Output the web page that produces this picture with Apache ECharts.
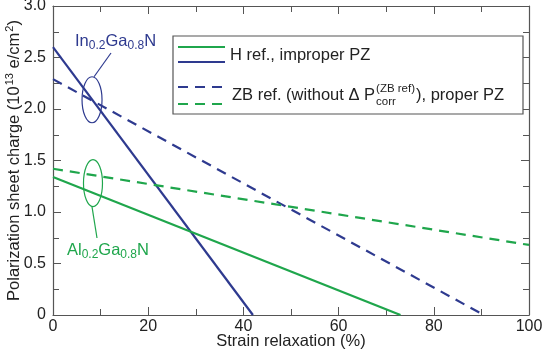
<!DOCTYPE html>
<html>
<head>
<meta charset="utf-8">
<script src="https://cdn.jsdelivr.net/npm/echarts@6/dist/echarts.min.js"></script>
<style>
  html, body { margin: 0; padding: 0; background: #fff; }
  #chart { width: 542px; height: 350px; }
</style>
</head>
<body>
<div id="chart"></div>
<script>
// strain relaxation (%) vs polarization sheet charge (10^13 e/cm^2)
var inH = [[0, 2.6], [42, 0]];
var inZB = [[0, 2.29], [90.5, 0]];
var alH = [[0, 1.34], [73, 0]];
var alZB = [[0, 1.42], [100, 0.68]];

var BLUE = '#2e3a8f';
var GREEN = '#1fa64c';
var AXIS = '#555';
var TXT = '#222';
var FONT = '"Liberation Sans", Arial, sans-serif';

var chart = echarts.init(document.getElementById('chart'));

function measure(str, size) {
  var ctx = document.createElement('canvas').getContext('2d');
  ctx.font = size + 'px ' + FONT;
  return ctx.measureText(str).width;
}

function line(name, data, color, dashed) {
  return {
    name: name,
    type: 'line',
    data: data,
    symbol: 'none',
    xAxisIndex: 0,
    yAxisIndex: 0,
    lineStyle: { color: color, width: 2.2, type: dashed ? [10, 7] : 'solid' },
    silent: true,
    z: 3
  };
}

var axisLine = { show: true, onZero: false, lineStyle: { color: AXIS, width: 1.2 } };
var ticks = { inside: true, length: 8, lineStyle: { color: AXIS } };
var minor = { show: true, splitNumber: 2, length: 6, lineStyle: { color: AXIS } };

chart.setOption({
  animation: false,
  grid: { left: 53, right: 13, top: 6, bottom: 35, outerBoundsMode: 'none', containLabel: false },
  xAxis: [{
    type: 'value', min: 0, max: 100, interval: 20,
    axisLine: axisLine, splitLine: { show: false },
    axisTick: ticks, minorTick: minor,
    axisLabel: { color: TXT, fontSize: 16, fontFamily: FONT, margin: 4 },
    name: 'Strain relaxation (%)', nameLocation: 'middle', nameGap: 18, nameMoveOverlap: false,
    nameTextStyle: { color: TXT, fontSize: 16.5, fontFamily: FONT }
  }, {
    type: 'value', min: 0, max: 100, interval: 20, position: 'top',
    axisLine: axisLine, splitLine: { show: false },
    axisTick: ticks, minorTick: minor,
    axisLabel: { show: false }
  }],
  yAxis: [{
    type: 'value', min: 0, max: 3, interval: 0.5,
    axisLine: axisLine, splitLine: { show: false },
    axisTick: ticks, minorTick: minor,
    axisLabel: {
      color: TXT, fontSize: 16, fontFamily: FONT, margin: 7,
      formatter: function (v) { return v === 0 ? '0' : v.toFixed(1); }
    },
    name: '{t|Polarization sheet charge (10}{p|13}{t| e/cm}{p|2}{t|)}',
    nameLocation: 'middle', nameGap: 29, nameMoveOverlap: false,
    nameTextStyle: {
      rich: {
        t: { color: TXT, fontSize: 16.5, fontFamily: FONT },
        p: { color: TXT, fontSize: 11, fontFamily: FONT, padding: [0, 0, 9, 1] }
      }
    }
  }, {
    type: 'value', min: 0, max: 3, interval: 0.5, position: 'right',
    axisLine: axisLine, splitLine: { show: false },
    axisTick: ticks, minorTick: minor,
    axisLabel: { show: false }
  }],
  series: [
    line('InGaN H', inH, BLUE, false),
    line('InGaN ZB', inZB, BLUE, true),
    line('AlGaN H', alH, GREEN, false),
    line('AlGaN ZB', alZB, GREEN, true)
  ]
});

// annotations and legend box
var cIn = chart.convertToPixel({ gridIndex: 0 }, [8.2, 2.09]);
var cAl = chart.convertToPixel({ gridIndex: 0 }, [8.4, 1.28]);

var subRich = function (color) {
  return {
    m: { fill: color, fontSize: 16.5, fontFamily: FONT },
    s: { fill: color, fontSize: 12, fontFamily: FONT, padding: [10, 0, 0, 0] }
  };
};

var LX = 232, LF = 16.5;
var zbMain = 'ZB ref. (without \u0394 P';
var zbW = measure(zbMain, LF);
var supW = measure('(ZB ref)', 11.5);

var graphics = [
  { type: 'ellipse', shape: { cx: cIn[0], cy: cIn[1], rx: 10, ry: 23 },
    style: { fill: 'none', stroke: BLUE, lineWidth: 1.2 }, z: 10 },
  { type: 'line', shape: { x1: cIn[0] + 2, y1: cIn[1] - 23, x2: 111, y2: 53 },
    style: { stroke: BLUE, lineWidth: 1.2 }, z: 10 },
  { type: 'text', x: 75, y: 41,
    style: { text: '{m|In}{s|0.2}{m|Ga}{s|0.8}{m|N}', rich: subRich(BLUE), verticalAlign: 'middle' }, z: 10 },

  { type: 'ellipse', shape: { cx: cAl[0], cy: cAl[1], rx: 9.5, ry: 23.5 },
    style: { fill: 'none', stroke: GREEN, lineWidth: 1.2 }, z: 10 },
  { type: 'line', shape: { x1: cAl[0] - 1, y1: cAl[1] + 23.5, x2: 97, y2: 238 },
    style: { stroke: GREEN, lineWidth: 1.2 }, z: 10 },
  { type: 'text', x: 67, y: 250,
    style: { text: '{m|Al}{s|0.2}{m|Ga}{s|0.8}{m|N}', rich: subRich(GREEN), verticalAlign: 'middle' }, z: 10 },

  // legend
  { type: 'rect', shape: { x: 173, y: 36, width: 350, height: 78 },
    style: { fill: '#fff', stroke: AXIS, lineWidth: 1.2 }, z: 20 },
  { type: 'line', shape: { x1: 178, y1: 47, x2: 225, y2: 47 },
    style: { stroke: GREEN, lineWidth: 2.2 }, z: 21 },
  { type: 'line', shape: { x1: 178, y1: 62, x2: 225, y2: 62 },
    style: { stroke: BLUE, lineWidth: 2.2 }, z: 21 },
  { type: 'text', x: 230, y: 55,
    style: { text: 'H ref., improper PZ', fill: TXT, fontSize: LF, fontFamily: FONT, verticalAlign: 'middle' }, z: 21 },
  { type: 'line', shape: { x1: 178, y1: 87, x2: 225, y2: 87 },
    style: { stroke: BLUE, lineWidth: 2.2, lineDash: [10, 7] }, z: 21 },
  { type: 'line', shape: { x1: 178, y1: 104, x2: 225, y2: 104 },
    style: { stroke: GREEN, lineWidth: 2.2, lineDash: [10, 7] }, z: 21 },
  { type: 'text', x: LX, y: 95,
    style: { text: zbMain, fill: TXT, fontSize: LF, fontFamily: FONT, verticalAlign: 'middle' }, z: 21 },
  { type: 'text', x: LX + zbW + 1, y: 89,
    style: { text: '(ZB ref)', fill: TXT, fontSize: 11.5, fontFamily: FONT, verticalAlign: 'middle' }, z: 21 },
  { type: 'text', x: LX + zbW + 1, y: 102,
    style: { text: 'corr', fill: TXT, fontSize: 11.5, fontFamily: FONT, verticalAlign: 'middle' }, z: 21 },
  { type: 'text', x: LX + zbW + supW + 2, y: 95,
    style: { text: '), proper PZ', fill: TXT, fontSize: LF, fontFamily: FONT, verticalAlign: 'middle' }, z: 21 }
];

chart.setOption({ graphic: graphics });
</script>
</body>
</html>
